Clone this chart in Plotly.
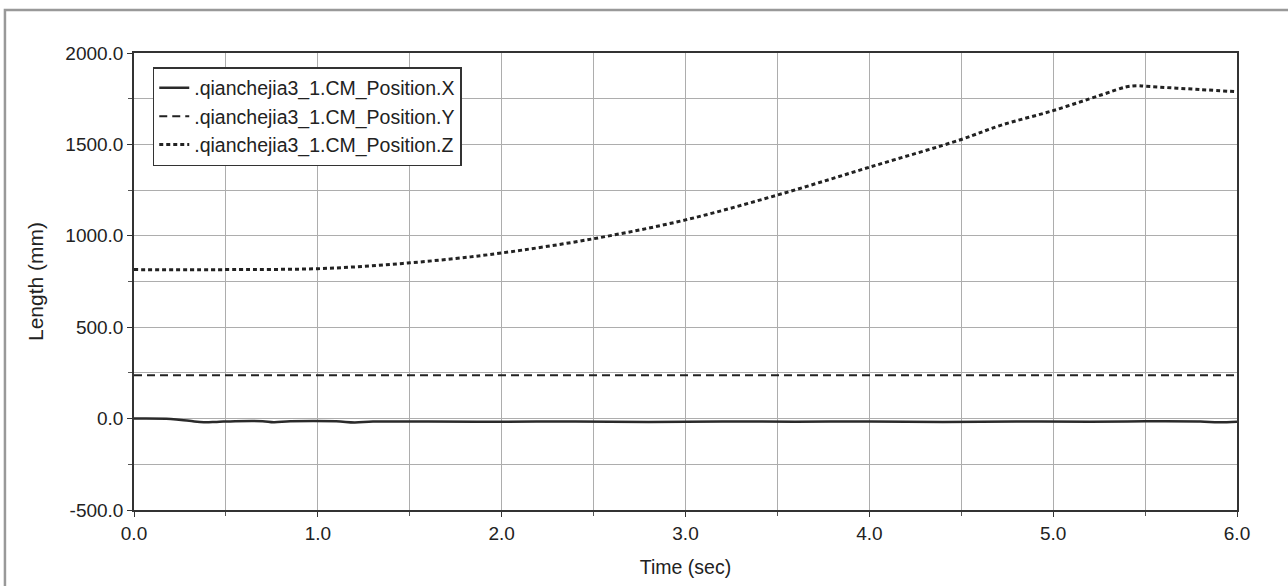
import plotly.graph_objects as go

# ---- data ----
time_x = [0.0, 0.2, 0.3, 0.38, 0.45, 0.55, 0.7, 0.76, 0.85, 1.1, 1.2, 1.3, 1.6, 2.0, 2.4, 2.8, 3.2, 3.6, 4.0, 4.4, 4.8, 5.2, 5.5, 5.8, 5.9, 6.0]
pos_x = [0.0, -2.0, -12.0, -20.0, -18.0, -14.0, -14.0, -20.0, -15.0, -15.0, -21.0, -16.0, -16.0, -17.0, -16.0, -18.0, -16.0, -17.0, -16.0, -18.0, -16.0, -17.0, -15.0, -16.0, -20.0, -17.0]

time_y = [0.0, 6.0]
pos_y = [237.0, 237.0]

time_z = [0.0, 0.5, 0.75, 1.0, 1.25, 1.5, 1.75, 2.0, 2.5, 3.0, 3.5, 4.0, 4.5, 4.71, 5.0, 5.26, 5.4, 5.46, 5.5, 5.8, 6.0]
pos_z = [815, 815, 816, 820, 833, 852, 876, 906, 984, 1087, 1223, 1375, 1527, 1603, 1685, 1770, 1815, 1821, 1818, 1800, 1788]

names = [".qianchejia3_1.CM_Position.X", ".qianchejia3_1.CM_Position.Y", ".qianchejia3_1.CM_Position.Z"]

x_ticks = [0, 1, 2, 3, 4, 5, 6]
x_ticklabels = ["0.0", "1.0", "2.0", "3.0", "4.0", "5.0", "6.0"]
y_ticks = [-500, 0, 500, 1000, 1500, 2000]
y_ticklabels = ["-500.0", "0.0", "500.0", "1000.0", "1500.0", "2000.0"]

FONT = "Liberation Sans, Arial, sans-serif"

fig = go.Figure()
fig.add_trace(go.Scatter(x=time_x, y=pos_x, mode="lines", name=names[0],
                         line=dict(color="#2a2a2a", width=2.5, dash="solid", shape="spline")))
fig.add_trace(go.Scatter(x=time_y, y=pos_y, mode="lines", name=names[1],
                         line=dict(color="#222222", width=2, dash="8px,5px")))
fig.add_trace(go.Scatter(x=time_z, y=pos_z, mode="lines", name=names[2],
                         line=dict(color="#222222", width=3, dash="4px,3px", shape="spline")))

fig.update_layout(
    width=1288, height=586,
    margin=dict(l=134, r=51, t=53, b=76),
    paper_bgcolor="white", plot_bgcolor="white",
    font=dict(family=FONT, size=19, color="#222222"),
    showlegend=True,
    legend=dict(x=0.017, y=0.969, xanchor="left", yanchor="top",
                bgcolor="white", bordercolor="#333333", borderwidth=1.5,
                font=dict(family=FONT, size=19.5, color="#222222"),
                itemwidth=30, tracegroupgap=0),
    xaxis=dict(range=[0, 6], tickvals=x_ticks, ticktext=x_ticklabels,
               showgrid=True, gridcolor="#adadad", gridwidth=1,
               ticks="outside", ticklen=5, tickcolor="#333333",
               minor=dict(dtick=0.5, tick0=0, showgrid=True, gridcolor="#adadad", ticks="outside", ticklen=4, tickcolor="#555555"),
               showline=True, linecolor="#333333", linewidth=1.5, mirror=True,
               zeroline=False,
               title=dict(text="Time (sec)", font=dict(size=19.5), standoff=18),
               tickfont=dict(size=19)),
    yaxis=dict(range=[-500, 2000], tickvals=y_ticks, ticktext=y_ticklabels,
               showgrid=True, gridcolor="#adadad", gridwidth=1,
               ticks="outside", ticklen=5, tickcolor="#333333",
               minor=dict(dtick=250, tick0=0, showgrid=True, gridcolor="#adadad", ticks="outside", ticklen=4, tickcolor="#555555"),
               showline=True, linecolor="#333333", linewidth=1.5, mirror=True,
               zeroline=False,
               title=dict(text="Length (mm)", font=dict(size=21), standoff=16),
               tickfont=dict(size=19)),
    shapes=[dict(type="rect", xref="paper", yref="paper",
                 x0=-0.117, x1=1.2, y0=-0.3, y1=1.094,
                 line=dict(color="#999999", width=2.5), fillcolor="rgba(0,0,0,0)", layer="below")],
)

fig.write_html("out.html",
               config={"displayModeBar": False},
               post_script="document.body.style.margin='0';document.body.style.overflow='hidden';")
